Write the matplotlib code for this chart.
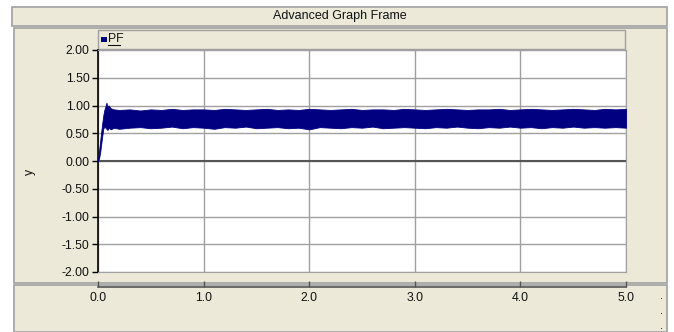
import matplotlib as mpl
mpl.use('Agg')
import matplotlib.pyplot as plt
from matplotlib.patches import Rectangle
from matplotlib.lines import Line2D
import numpy as np

plt.rcParams['font.family'] = ['Liberation Sans', 'DejaVu Sans']
plt.rcParams['axes.unicode_minus'] = False

# data: envelope of the PF trace (upper / lower)
t_ramp = [0.0, 0.01, 0.02, 0.03, 0.04, 0.05, 0.06, 0.07, 0.08, 0.09, 0.10, 0.12, 0.15]
up_ramp = [0.02, 0.18, 0.35, 0.52, 0.68, 0.82, 0.92, 0.98, 1.05, 0.97, 1.00, 0.95, 0.93]
lo_ramp = [0.0, 0.05, 0.15, 0.30, 0.45, 0.58, 0.62, 0.60, 0.58, 0.56, 0.60, 0.57, 0.60]

t_body = [0.2, 0.3, 0.4, 0.5, 0.6, 0.7, 0.8, 0.9, 1.0, 1.1, 1.2, 1.3, 1.4, 1.5,
          1.6, 1.7, 1.8, 1.9, 2.0, 2.1, 2.2, 2.3, 2.4, 2.5, 2.6, 2.7, 2.8, 2.9,
          3.0, 3.1, 3.2, 3.3, 3.4, 3.5, 3.6, 3.7, 3.8, 3.9, 4.0, 4.1, 4.2, 4.3,
          4.4, 4.5, 4.6, 4.7, 4.8, 4.9, 5.0]
up_body = [0.92, 0.93, 0.91, 0.93, 0.92, 0.94, 0.92, 0.93, 0.93, 0.92, 0.94, 0.93,
           0.92, 0.93, 0.94, 0.92, 0.93, 0.92, 0.94, 0.93, 0.92, 0.93, 0.94, 0.92,
           0.93, 0.93, 0.92, 0.94, 0.93, 0.92, 0.93, 0.94, 0.93, 0.92, 0.93, 0.93,
           0.94, 0.92, 0.93, 0.94, 0.93, 0.92, 0.93, 0.94, 0.93, 0.92, 0.94, 0.93, 0.94]
lo_body = [0.58, 0.60, 0.61, 0.59, 0.60, 0.62, 0.59, 0.61, 0.60, 0.58, 0.61, 0.60,
           0.62, 0.59, 0.60, 0.61, 0.59, 0.60, 0.57, 0.61, 0.60, 0.59, 0.61, 0.60,
           0.62, 0.59, 0.60, 0.61, 0.60, 0.59, 0.61, 0.60, 0.62, 0.60, 0.59, 0.61,
           0.60, 0.62, 0.60, 0.61, 0.59, 0.61, 0.60, 0.62, 0.60, 0.61, 0.60, 0.61, 0.60]

t_env = np.array(t_ramp + t_body)
pf_upper = np.array(up_ramp + up_body)
pf_lower = np.array(lo_ramp + lo_body)

y_ticks = [-2.0, -1.5, -1.0, -0.5, 0.0, 0.5, 1.0, 1.5, 2.0]
x_ticks = [0.0, 1.0, 2.0, 3.0, 4.0, 5.0]

W, H = 674, 332
BG = '#ECE9D8'
EDGE = '#A0A0A0'
FS = 8.8


def fx(px):
    return px / W


def fy(py):
    return 1 - py / H


fig = plt.figure(figsize=(W / 100, H / 100), dpi=100, facecolor='white')

# panels (title bar, graph panel, x axis panel)
for x0, y0, x1, y1 in [(12, 7, 667, 26), (14, 28, 667, 283), (14, 285, 667, 332)]:
    fig.patches.append(Rectangle((fx(x0), fy(y1)), fx(x1) - fx(x0), fy(y0) - fy(y1),
                                 transform=fig.transFigure, facecolor=BG,
                                 edgecolor=EDGE, linewidth=1.2, zorder=-5))
fig.text(fx(340), fy(16.5), 'Advanced Graph Frame', ha='center', va='center',
         fontsize=9, color='#111111')

# legend strip
fig.patches.append(Rectangle((fx(98), fy(49)), fx(625) - fx(98), fy(30) - fy(49),
                             transform=fig.transFigure, facecolor=BG,
                             edgecolor=EDGE, linewidth=1, zorder=-4))
fig.patches.append(Rectangle((fx(100.5), fy(41.5)), fx(6), 5 / H,
                             transform=fig.transFigure, facecolor='#000080',
                             edgecolor='none', zorder=2))
fig.text(fx(108), fy(39.5), 'PF', ha='left', va='center', fontsize=FS, color='#111111')
fig.lines.append(Line2D([fx(108), fx(120)], [fy(45), fy(45)], transform=fig.transFigure,
                        color='#111111', linewidth=0.8))

# main plot
ax = fig.add_axes([fx(98), fy(272), fx(626) - fx(98), fy(50) - fy(272)])
ax.set_zorder(1)
ax.set_facecolor('white')
ax.fill_between(t_env, pf_lower, pf_upper, color='#000080', linewidth=0.6,
                edgecolor='#000080', zorder=3)
ax.set_xlim(0, 5)
ax.set_ylim(-2, 2)
ax.set_yticks(y_ticks)
ax.set_yticklabels(['%.2f' % v for v in y_ticks])
ax.set_xticks(x_ticks)
ax.tick_params(axis='x', bottom=False, labelbottom=False)
ax.tick_params(axis='y', direction='out', length=4, width=1, color='black',
               labelsize=FS, pad=2, labelcolor='#111111')
ax.grid(True, color=EDGE, linewidth=1)
ax.axhline(0, color='#555555', linewidth=1.5, zorder=2)
for s in ['top', 'right', 'bottom']:
    ax.spines[s].set_color(EDGE)
ax.spines['left'].set_color('black')
ax.spines['left'].set_linewidth(1.2)
fig.text(fx(30), fy(172), 'y', rotation=90, ha='center', va='center',
         fontsize=FS, color='#111111')

# separate x axis in the bottom panel
ax2 = fig.add_axes([fx(98), fy(286.5), fx(626) - fx(98), 0.0001])
ax2.set_zorder(1)
ax2.set_xlim(0, 5)
ax2.set_xticks(x_ticks)
ax2.set_xticklabels(['%.1f' % v for v in x_ticks])
ax2.set_yticks([])
ax2.patch.set_alpha(0)
for s in ['top', 'right', 'left']:
    ax2.spines[s].set_visible(False)
ax2.spines['bottom'].set_color('#555555')
ax2.spines['bottom'].set_linewidth(1.2)
ax2.tick_params(axis='x', direction='in', length=4, width=1, color='#555555',
                labelsize=FS, pad=4, labelcolor='#111111')

# three little dots at the right of the x axis panel
for py in [298, 313, 328]:
    fig.patches.append(Rectangle((fx(660.5), fy(py + 1)), 1 / W, 1 / H,
                                 transform=fig.transFigure, facecolor='#333333',
                                 edgecolor='none', zorder=3))

fig.savefig('out.png', dpi=100, facecolor=fig.get_facecolor())
